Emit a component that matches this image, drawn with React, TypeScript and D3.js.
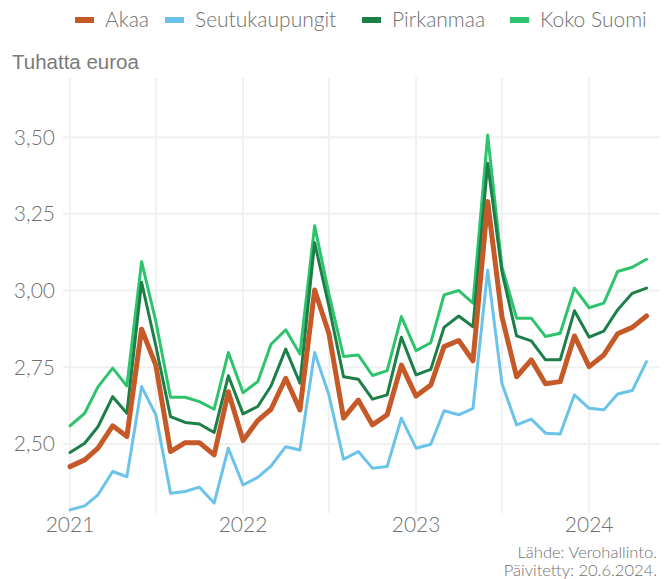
import React from 'react';
import * as d3 from 'd3';

const months = d3.timeMonth.range(new Date(2021, 0, 1), new Date(2024, 5, 1));

const akaa = [
  2.426, 2.448, 2.486, 2.559, 2.524, 2.874, 2.757, 2.475, 2.504, 2.504, 2.464, 2.67,
  2.511, 2.576, 2.613, 2.714, 2.611, 3.002, 2.861, 2.584, 2.643, 2.562, 2.595, 2.757,
  2.656, 2.692, 2.817, 2.837, 2.771, 3.29, 2.915, 2.719, 2.774, 2.696, 2.703, 2.852,
  2.752, 2.79, 2.859, 2.88, 2.917,
];
const seutukaupungit = [
  2.285, 2.298, 2.334, 2.41, 2.393, 2.687, 2.595, 2.339, 2.345, 2.359, 2.307, 2.486,
  2.366, 2.391, 2.428, 2.491, 2.48, 2.798, 2.66, 2.45, 2.475, 2.421, 2.426, 2.584,
  2.486, 2.499, 2.608, 2.595, 2.616, 3.067, 2.698, 2.562, 2.581, 2.535, 2.532, 2.66,
  2.616, 2.611, 2.663, 2.674, 2.768,
];
const pirkanmaa = [
  2.472, 2.502, 2.556, 2.654, 2.6, 3.027, 2.82, 2.589, 2.57, 2.565, 2.537, 2.722,
  2.598, 2.622, 2.689, 2.809, 2.698, 3.156, 2.95, 2.719, 2.711, 2.646, 2.66, 2.848,
  2.725, 2.743, 2.88, 2.917, 2.882, 3.415, 3.062, 2.852, 2.836, 2.774, 2.774, 2.934,
  2.848, 2.868, 2.937, 2.991, 3.008,
];
const kokoSuomi = [
  2.559, 2.6, 2.686, 2.747, 2.689, 3.094, 2.9, 2.652, 2.652, 2.638, 2.613, 2.798,
  2.667, 2.703, 2.825, 2.872, 2.793, 3.211, 2.99, 2.785, 2.79, 2.723, 2.739, 2.915,
  2.804, 2.83, 2.986, 3.0, 2.959, 3.507, 3.078, 2.91, 2.91, 2.85, 2.861, 3.008,
  2.944, 2.959, 3.062, 3.076, 3.102,
];

const series = [
  { name: 'Akaa', values: akaa, color: '#c55a28', width: 5 },
  { name: 'Seutukaupungit', values: seutukaupungit, color: '#6cc3ea', width: 3 },
  { name: 'Pirkanmaa', values: pirkanmaa, color: '#1b7f47', width: 3 },
  { name: 'Koko Suomi', values: kokoSuomi, color: '#2ec46e', width: 3 },
];

const yTicks = [2.5, 2.75, 3.0, 3.25, 3.5];
const yearTicks = [2021, 2022, 2023, 2024];
const legendX = [75, 165, 362, 510];

const fmt = (v: number) => v.toFixed(2).replace('.', ',');

export default function App() {
  const W = 670;
  const H = 579;
  const right = 660;
  const top = 78;
  const bottom = 513;

  const x = d3.scaleTime()
    .domain([new Date(2021, 0, 1), new Date(2024, 4, 1)])
    .range([70, 646.5]);
  const y = d3.scaleLinear().domain([2.278, 3.693]).range([512, 78]);

  const halfYears = d3.timeMonth.every(6)!.range(new Date(2021, 0, 1), new Date(2024, 7, 1))
    .filter(d => x(d) <= right);

  const line = d3.line<number>()
    .x((_, i) => x(months[i]))
    .y(d => y(d));

  const font = 'Lato, "Open Sans", sans-serif';
  const grey = '#707070';

  return (
    <svg width={W} height={H} style={{ position: 'absolute', left: 0, top: 0, background: '#fff' }}>
      <rect width={W} height={H} fill="#fff" />
      <g>
        {halfYears.map((d, i) => (
          <line key={'v' + i} x1={x(d)} x2={x(d)} y1={top} y2={bottom} stroke="#f0f0f0" strokeWidth={2} />
        ))}
        {yTicks.map(t => (
          <line key={'h' + t} x1={63} x2={right} y1={y(t)} y2={y(t)} stroke="#f0f0f0" strokeWidth={2} />
        ))}
      </g>
      {yTicks.map(t => (
        <text key={'yl' + t} x={55} y={y(t)} dy="0.35em" textAnchor="end" fontFamily={font}
          fontWeight={300} fontSize={21} fill={grey}>{fmt(t)}</text>
      ))}
      {yearTicks.map(yr => (
        <text key={'xl' + yr} x={x(new Date(yr, 0, 1))} y={532} textAnchor="middle" fontFamily={font}
          fontWeight={300} fontSize={21} fill={grey}>{yr}</text>
      ))}
      <g fill="none" strokeLinejoin="round" strokeLinecap="round">
        {[...series].reverse().map(s => (
          <path key={s.name} d={line(s.values) || ''} stroke={s.color} strokeWidth={s.width} />
        ))}
      </g>
      <g>
        {series.map((s, i) => (
          <g key={s.name} transform={`translate(${legendX[i]},20)`}>
            <rect x={0} y={-3} width={19} height={6} fill={s.color} />
            <text x={30} y={0} dy="0.35em" fontFamily={font} fontWeight={300} fontSize={21} fill={grey}>{s.name}</text>
          </g>
        ))}
      </g>
      <text x={12} y={69} fontFamily='"Liberation Sans", Arial, sans-serif' fontSize={20.5} fill="#7a7a7a">Tuhatta euroa</text>
      <text x={657} y={558} textAnchor="end" fontFamily={font} fontWeight={300} fontSize={16.5} fill={grey}>Lähde: Verohallinto.</text>
      <text x={657} y={576} textAnchor="end" fontFamily={font} fontWeight={300} fontSize={16.5} fill={grey}>Päivitetty: 20.6.2024.</text>
    </svg>
  );
}
